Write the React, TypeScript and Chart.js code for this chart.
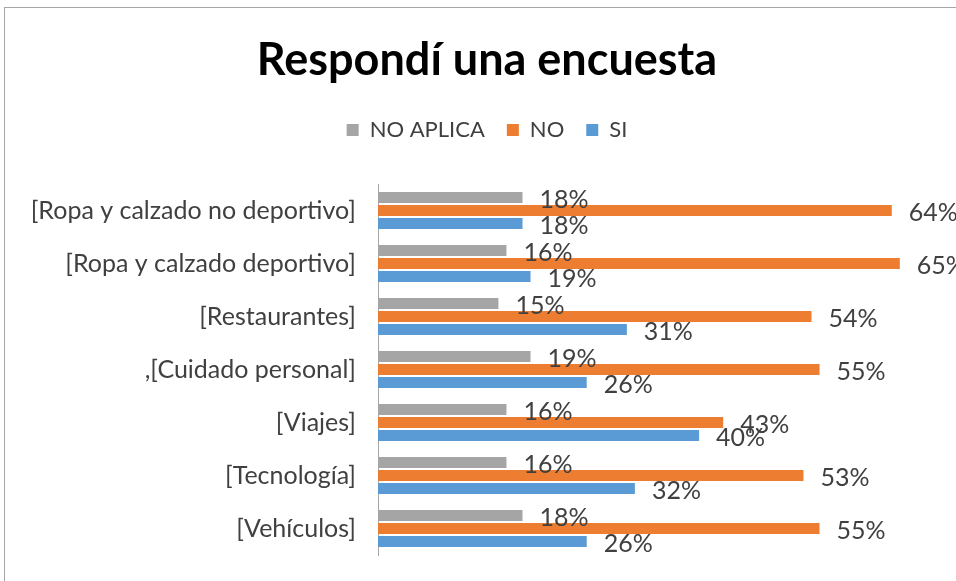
import React, { useEffect, useRef } from "react";
import { Chart, registerables } from "chart.js";

Chart.register(...registerables);

const categories = [
  "[Ropa y calzado no deportivo]",
  "[Ropa y calzado deportivo]",
  "[Restaurantes]",
  ",[Cuidado personal]",
  "[Viajes]",
  "[Tecnología]",
  "[Vehículos]",
];
const noAplica = [18, 16, 15, 19, 16, 16, 18];
const no = [64, 65, 54, 55, 43, 53, 55];
const si = [18, 19, 31, 26, 40, 32, 26];

const FONT = "Lato, 'Open Sans', sans-serif";

const borderPlugin = {
  id: "outerBorder",
  beforeDraw(chart: any) {
    const ctx = chart.ctx;
    ctx.save();
    ctx.fillStyle = "#ffffff";
    ctx.fillRect(0, 0, chart.width, chart.height);
    ctx.strokeStyle = "#a6a6a6";
    ctx.lineWidth = 1;
    ctx.strokeRect(4.5, 7.5, chart.width + 20, chart.height + 20);
    ctx.restore();
  },
};

const labelPlugin = {
  id: "barLabels",
  afterDatasetsDraw(chart: any) {
    const ctx = chart.ctx;
    ctx.save();
    ctx.font = `25px ${FONT}`;
    ctx.fillStyle = "#404040";
    ctx.textAlign = "left";
    ctx.textBaseline = "middle";
    chart.data.datasets.forEach((ds: any, i: number) => {
      const meta = chart.getDatasetMeta(i);
      meta.data.forEach((bar: any, j: number) => {
        ctx.fillText(`${ds.data[j]}%`, bar.x + 17, bar.y + 2);
      });
    });
    ctx.restore();
  },
};

export default function App() {
  const ref = useRef<HTMLCanvasElement | null>(null);
  useEffect(() => {
    const chart = new Chart(ref.current!, {
      type: "bar",
      data: {
        labels: categories,
        datasets: [
          { label: "NO APLICA", data: noAplica, backgroundColor: "#A5A5A5" },
          { label: "NO", data: no, backgroundColor: "#ED7D31" },
          { label: "SI", data: si, backgroundColor: "#5B9BD5" },
        ],
      },
      options: {
        indexAxis: "y",
        animation: false,
        responsive: false,
        devicePixelRatio: 1,
        datasets: { bar: { categoryPercentage: 0.735, barPercentage: 0.85 } },
        layout: { padding: { left: 18, right: 0, top: 0, bottom: 26 } },
        scales: {
          x: {
            position: "top",
            display: true,
            min: 0,
            max: 72,
            grid: { display: false, drawTicks: false },
            border: { display: false },
            ticks: { display: false },
            afterFit(scale: any) {
              scale.height = 33;
            },
          },
          y: {
            grid: { display: false, drawTicks: false },
            border: { display: true, color: "#a6a6a6", width: 1 },
            ticks: { padding: 22, color: "#404040", font: { family: FONT, size: 25 } },
            afterFit(scale: any) {
              scale.width = 360;
              scale.paddingTop = 0;
              scale.paddingBottom = 0;
            },
          },
        },
        plugins: {
          title: {
            display: true,
            text: "Respondí una encuesta",
            color: "#000000",
            font: { family: FONT, size: 45, weight: "bold" },
            padding: { top: 33, bottom: 10 },
          },
          legend: {
            display: true,
            labels: {
              color: "#404040",
              font: { family: FONT, size: 22 },
              boxWidth: 12,
              boxHeight: 12,
              padding: 22,
            },
          },
          tooltip: { enabled: false },
        },
      },
      plugins: [borderPlugin, labelPlugin],
    });
    return () => chart.destroy();
  }, []);
  return (
    <div style={{ position: "fixed", left: 0, top: 0, width: 956, height: 581, background: "#fff" }}>
      <canvas ref={ref} width={956} height={581} style={{ display: "block" }} />
    </div>
  );
}
